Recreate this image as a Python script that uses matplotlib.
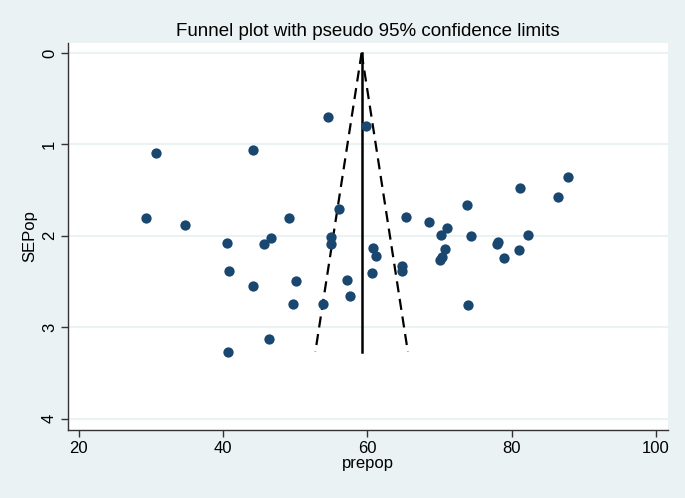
import matplotlib.pyplot as plt
import numpy as np

# study estimates (prepop) and their standard errors (SEPop)
prepop = [30.7, 29.3, 34.8, 44.2, 54.5, 59.8, 40.6, 40.9, 40.7, 44.2,
          45.7, 46.7, 49.1, 50.1, 49.7, 46.4, 56.1, 55.0, 54.9, 57.2,
          53.9, 57.6, 87.8, 81.1, 86.4, 73.8, 65.3, 68.6, 71.1, 70.2,
          74.3, 82.2, 78.1, 77.9, 60.8, 70.8, 81.0, 61.2, 70.4, 70.0,
          78.9, 64.8, 64.8, 60.7, 74.0]
sepop = [1.10, 1.81, 1.88, 1.06, 0.70, 0.80, 2.08, 2.39, 3.27, 2.55,
         2.09, 2.02, 1.81, 2.49, 2.75, 3.13, 1.71, 2.01, 2.09, 2.48,
         2.75, 2.66, 1.36, 1.48, 1.58, 1.66, 1.79, 1.85, 1.92, 1.99,
         2.00, 1.99, 2.07, 2.09, 2.13, 2.14, 2.16, 2.22, 2.23, 2.27,
         2.24, 2.33, 2.39, 2.41, 2.76]
pooled = 59.2

x_ticks = [20, 40, 60, 80, 100]
y_ticks = [0, 1, 2, 3, 4]

bg = '#eaf2f3'
navy = '#1a476f'

plt.rcParams['font.family'] = ['Liberation Sans', 'DejaVu Sans']

fig = plt.figure(figsize=(6.85, 4.98), dpi=100)
fig.patch.set_facecolor(bg)
ax = fig.add_axes([0.0993, 0.1365, 0.8757, 0.7772])
ax.set_facecolor('white')

# pseudo 95% limits
se_max = max(sepop)
se_line = np.array([0, se_max])
ax.plot(pooled - 1.96 * se_line, se_line, color='black', lw=1.6, ls=(0, (5, 3)))
ax.plot(pooled + 1.96 * se_line, se_line, color='black', lw=1.6, ls=(0, (5, 3)))
ax.plot([pooled, pooled], [0, se_max], color='black', lw=1.8)

ax.scatter(prepop, sepop, s=55, color=navy, zorder=3, linewidths=0)

ax.set_xlim(18.53, 101.63)
ax.set_ylim(4.125, -0.109)
ax.set_xticks(x_ticks)
ax.set_yticks(y_ticks)
ax.set_yticklabels([str(t) for t in y_ticks], rotation=90, va='center')
ax.grid(axis='y', color=bg, lw=1.5)
ax.set_axisbelow(True)

for s in ['top', 'right']:
    ax.spines[s].set_visible(False)
for s in ['left', 'bottom']:
    ax.spines[s].set_color('#333333')
    ax.spines[s].set_linewidth(1.0)
ax.tick_params(direction='out', length=5, width=1, color='#333333',
               labelsize=12, pad=3)

ax.set_xlabel('prepop', fontsize=12, labelpad=0)
ax.set_ylabel('SEPop', fontsize=12, labelpad=3)
ax.set_title('Funnel plot with pseudo 95% confidence limits', fontsize=13.5, pad=5)

fig.savefig('out.png', dpi=100, facecolor=bg)
